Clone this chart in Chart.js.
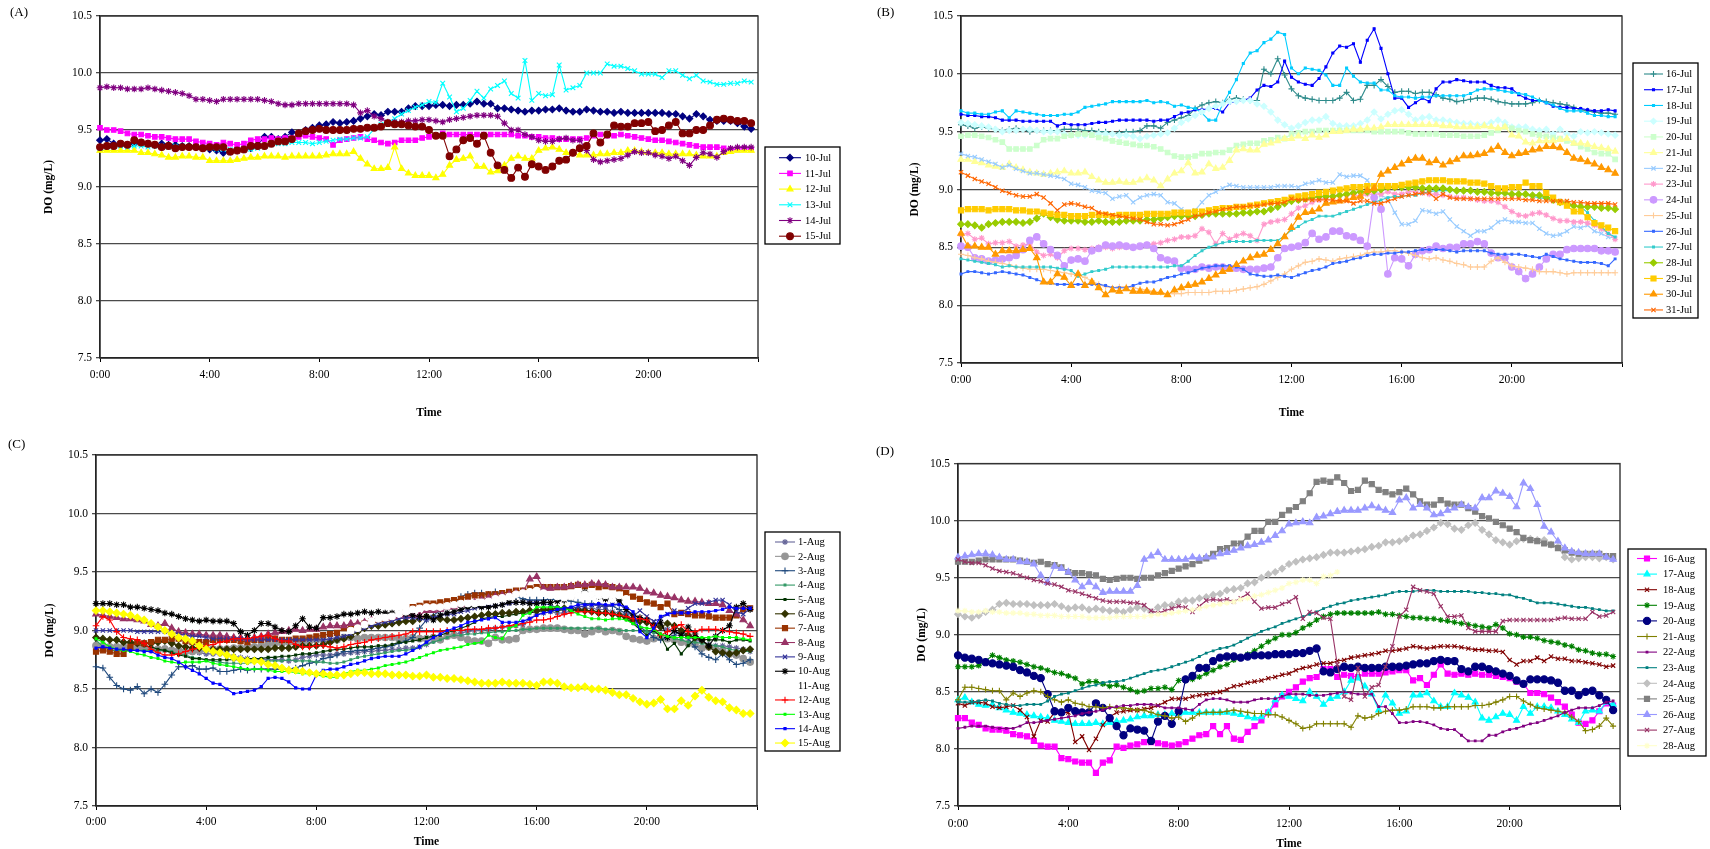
<!DOCTYPE html>
<html><head><meta charset="utf-8">
<script src="https://cdn.jsdelivr.net/npm/chart.js@4.4.1/dist/chart.umd.min.js"></script>
<style>
html,body{margin:0;padding:0;background:#fff;overflow:hidden}
#wrap{position:relative;width:1710px;height:849px;background:#fff}
canvas{position:absolute;left:0;top:0}
</style></head><body>
<div id="wrap">
<canvas id="cA" width="1710" height="849"></canvas>
<canvas id="cB" width="1710" height="849"></canvas>
<canvas id="cC" width="1710" height="849"></canvas>
<canvas id="cD" width="1710" height="849"></canvas>
</div>
<script>
// ---------- x categories (time of day, hours, 15-min readings) ----------
const hours = Array.from({length: 96}, (_, i) => i / 4);
const timeTickLabels = ['0:00', '4:00', '8:00', '12:00', '16:00', '20:00'];
const yTicks = [7.5, 8.0, 8.5, 9.0, 9.5, 10.0, 10.5];

// ---------- Panel A: 10-15 Jul ----------
const namesA = ['10-Jul', '11-Jul', '12-Jul', '13-Jul', '14-Jul', '15-Jul'];
const jul10 = [9.41,9.42,9.38,9.37,9.37,9.38,9.39,9.38,9.37,9.38,9.37,9.37,
9.36,9.36,9.35,9.34,9.33,9.32,9.30,9.31,9.32,9.33,9.34,9.37,
9.44,9.44,9.42,9.44,9.48,9.47,9.50,9.52,9.54,9.55,9.57,9.56,
9.57,9.58,9.60,9.62,9.64,9.63,9.66,9.66,9.66,9.69,9.71,9.71,
9.71,9.72,9.72,9.71,9.72,9.72,9.73,9.75,9.73,9.73,9.69,9.69,
9.68,9.67,9.66,9.67,9.67,9.68,9.68,9.69,9.67,9.66,9.66,9.68,
9.67,9.66,9.66,9.65,9.66,9.65,9.65,9.65,9.65,9.65,9.65,9.64,
9.64,9.62,9.60,9.64,9.62,9.59,9.58,9.58,9.58,9.56,9.53,9.51];
const jul11 = [9.52,9.50,9.50,9.49,9.47,9.46,9.46,9.45,9.44,9.44,9.43,9.42,
9.42,9.42,9.40,9.39,9.38,9.37,9.39,9.38,9.37,9.38,9.41,9.42,
9.42,9.43,9.42,9.43,9.43,9.44,9.45,9.44,9.43,9.42,9.37,9.41,
9.42,9.43,9.44,9.42,9.41,9.39,9.38,9.39,9.41,9.41,9.41,9.43,
9.44,9.45,9.47,9.46,9.46,9.46,9.46,9.46,9.46,9.46,9.46,9.46,
9.46,9.45,9.45,9.44,9.44,9.43,9.43,9.42,9.42,9.42,9.42,9.43,
9.45,9.46,9.45,9.45,9.46,9.45,9.44,9.43,9.42,9.41,9.41,9.40,
9.39,9.38,9.37,9.36,9.35,9.35,9.35,9.34,9.33,9.33,9.34,9.33];
const jul12 = [9.32,9.32,9.32,9.32,9.32,9.32,9.30,9.30,9.29,9.28,9.26,9.26,
9.27,9.27,9.26,9.26,9.23,9.23,9.23,9.23,9.24,9.25,9.26,9.26,
9.27,9.27,9.27,9.26,9.27,9.27,9.27,9.27,9.27,9.28,9.29,9.29,
9.29,9.31,9.25,9.20,9.16,9.16,9.17,9.35,9.16,9.12,9.10,9.10,
9.10,9.08,9.11,9.19,9.24,9.25,9.27,9.18,9.18,9.13,9.14,9.19,
9.25,9.27,9.25,9.25,9.32,9.34,9.35,9.33,9.30,9.30,9.28,9.28,
9.28,9.29,9.29,9.30,9.30,9.32,9.32,9.31,9.30,9.30,9.30,9.29,
9.29,9.29,9.29,9.28,9.27,9.27,9.27,9.30,9.31,9.32,9.32,9.32];
const jul13 = [9.34,9.35,9.35,9.36,9.35,9.36,9.36,9.35,9.36,9.36,9.35,9.36,
9.36,9.35,9.35,9.35,9.34,9.33,9.33,9.33,9.33,9.34,9.33,9.34,
9.35,9.37,9.38,9.38,9.39,9.39,9.39,9.38,9.39,9.40,9.41,9.42,
9.42,9.43,9.43,9.44,9.51,9.55,9.57,9.60,9.64,9.67,9.70,9.72,
9.75,9.74,9.91,9.79,9.66,9.69,9.76,9.84,9.78,9.86,9.89,9.93,
9.82,9.78,10.11,9.76,9.82,9.80,9.81,10.07,9.85,9.87,9.89,10.00,
10.00,10.00,10.08,10.06,10.06,10.04,10.02,9.99,9.99,9.99,9.96,10.02,
10.02,9.98,9.95,9.98,9.93,9.92,9.90,9.90,9.91,9.91,9.93,9.92];
const jul14 = [9.87,9.88,9.87,9.87,9.86,9.86,9.86,9.87,9.86,9.85,9.84,9.83,
9.82,9.80,9.77,9.77,9.76,9.75,9.77,9.77,9.77,9.77,9.77,9.77,
9.76,9.75,9.73,9.72,9.72,9.73,9.73,9.73,9.73,9.73,9.73,9.73,
9.73,9.72,9.65,9.67,9.62,9.60,9.57,9.57,9.57,9.58,9.58,9.59,
9.59,9.58,9.57,9.59,9.60,9.61,9.62,9.63,9.63,9.63,9.62,9.56,
9.50,9.50,9.46,9.44,9.41,9.40,9.40,9.42,9.43,9.41,9.41,9.32,
9.24,9.22,9.23,9.24,9.25,9.28,9.31,9.30,9.30,9.28,9.27,9.25,
9.27,9.23,9.19,9.26,9.30,9.29,9.26,9.31,9.34,9.35,9.35,9.35];
const jul15 = [9.35,9.36,9.36,9.38,9.37,9.41,9.39,9.38,9.37,9.35,9.36,9.34,
9.35,9.35,9.35,9.34,9.35,9.35,9.35,9.31,9.32,9.33,9.36,9.36,
9.36,9.38,9.40,9.40,9.42,9.47,9.49,9.50,9.51,9.50,9.50,9.50,
9.50,9.51,9.51,9.52,9.52,9.53,9.56,9.55,9.55,9.54,9.53,9.53,
9.50,9.45,9.45,9.27,9.33,9.41,9.43,9.38,9.45,9.30,9.19,9.15,
9.08,9.17,9.09,9.20,9.18,9.15,9.18,9.23,9.24,9.30,9.34,9.36,
9.47,9.39,9.46,9.54,9.53,9.53,9.56,9.56,9.57,9.49,9.50,9.54,
9.57,9.47,9.47,9.50,9.50,9.54,9.59,9.60,9.59,9.58,9.58,9.56];
const seriesA = [jul10, jul11, jul12, jul13, jul14, jul15];

// ---------- Panel B: 16-31 Jul ----------
const namesB = ['16-Jul','17-Jul','18-Jul','19-Jul','20-Jul','21-Jul','22-Jul','23-Jul','24-Jul','25-Jul','26-Jul','27-Jul','28-Jul','29-Jul','30-Jul','31-Jul'];
const jul16 = [9.56,9.55,9.53,9.54,9.53,9.52,9.51,9.52,9.53,9.52,9.50,9.51,
9.51,9.51,9.51,9.52,9.52,9.52,9.51,9.51,9.50,9.50,9.48,9.49,
9.50,9.50,9.51,9.55,9.55,9.53,9.58,9.60,9.62,9.64,9.70,9.73,
9.75,9.76,9.75,9.78,9.79,9.78,9.77,9.77,10.04,10.00,10.13,9.99,
9.87,9.81,9.79,9.78,9.77,9.77,9.77,9.79,9.84,9.77,9.78,9.90,
9.90,9.95,9.89,9.84,9.85,9.85,9.83,9.84,9.84,9.82,9.79,9.78,
9.76,9.77,9.78,9.79,9.79,9.78,9.76,9.75,9.74,9.74,9.74,9.75,
9.77,9.76,9.75,9.74,9.73,9.71,9.69,9.68,9.67,9.66,9.66,9.65];
const jul17 = [9.65,9.64,9.64,9.63,9.63,9.62,9.60,9.60,9.60,9.59,9.59,9.59,
9.59,9.59,9.55,9.57,9.56,9.56,9.56,9.57,9.58,9.58,9.59,9.60,
9.60,9.60,9.60,9.60,9.59,9.60,9.60,9.63,9.66,9.67,9.69,9.69,
9.70,9.70,9.67,9.75,9.76,9.77,9.79,9.86,9.90,9.89,9.93,10.11,
9.97,9.93,9.91,9.90,9.96,10.06,10.18,10.24,10.23,10.26,10.10,10.29,
10.39,10.22,10.00,9.79,9.79,9.71,9.75,9.79,9.76,9.87,9.93,9.93,
9.95,9.94,9.93,9.93,9.93,9.90,9.88,9.88,9.87,9.82,9.79,9.77,
9.77,9.75,9.72,9.71,9.71,9.70,9.70,9.69,9.68,9.68,9.69,9.68];
const jul18 = [9.68,9.66,9.66,9.65,9.65,9.67,9.68,9.62,9.68,9.67,9.66,9.65,
9.64,9.64,9.64,9.65,9.65,9.67,9.71,9.72,9.73,9.74,9.76,9.76,
9.76,9.76,9.76,9.77,9.75,9.76,9.75,9.72,9.73,9.71,9.70,9.66,
9.60,9.60,9.74,9.84,9.95,10.09,10.18,10.20,10.27,10.30,10.36,10.34,
10.05,10.00,10.05,10.04,10.03,9.99,9.90,9.90,10.05,9.98,9.93,9.92,
9.92,9.86,9.86,9.81,9.80,9.80,9.79,9.80,9.80,9.81,9.81,9.81,
9.81,9.81,9.83,9.86,9.87,9.87,9.86,9.85,9.84,9.83,9.82,9.80,
9.77,9.75,9.73,9.70,9.68,9.68,9.68,9.66,9.64,9.64,9.63,9.63];
const jul19 = [9.58,9.57,9.56,9.55,9.54,9.52,9.50,9.51,9.51,9.52,9.52,9.51,
9.50,9.50,9.50,9.48,9.47,9.47,9.47,9.48,9.48,9.48,9.48,9.47,
9.47,9.46,9.44,9.46,9.47,9.48,9.49,9.53,9.58,9.61,9.64,9.67,
9.70,9.72,9.74,9.76,9.76,9.77,9.77,9.74,9.72,9.67,9.60,9.56,
9.53,9.55,9.58,9.60,9.60,9.63,9.57,9.55,9.55,9.55,9.57,9.60,
9.67,9.61,9.65,9.68,9.69,9.65,9.60,9.62,9.63,9.60,9.60,9.59,
9.58,9.57,9.57,9.56,9.56,9.58,9.60,9.58,9.54,9.54,9.54,9.52,
9.51,9.52,9.48,9.52,9.48,9.46,9.50,9.49,9.50,9.49,9.48,9.47];
const jul20 = [9.46,9.47,9.47,9.46,9.45,9.43,9.41,9.35,9.35,9.35,9.35,9.38,
9.43,9.44,9.44,9.46,9.47,9.48,9.48,9.47,9.45,9.44,9.42,9.41,
9.40,9.39,9.38,9.38,9.37,9.35,9.32,9.29,9.28,9.28,9.29,9.31,
9.31,9.32,9.32,9.34,9.38,9.39,9.40,9.40,9.42,9.43,9.45,9.44,
9.48,9.49,9.50,9.50,9.51,9.51,9.51,9.51,9.51,9.51,9.51,9.51,
9.50,9.50,9.50,9.50,9.50,9.49,9.48,9.48,9.48,9.48,9.47,9.47,
9.47,9.46,9.46,9.46,9.47,9.49,9.51,9.54,9.53,9.51,9.50,9.48,
9.47,9.46,9.45,9.44,9.42,9.40,9.37,9.35,9.32,9.31,9.31,9.26];
const jul21 = [9.26,9.26,9.24,9.23,9.21,9.20,9.19,9.22,9.19,9.17,9.15,9.14,
9.13,9.14,9.15,9.16,9.14,9.14,9.15,9.11,9.08,9.06,9.06,9.07,
9.06,9.06,9.08,9.10,9.08,9.03,9.09,9.14,9.16,9.23,9.14,9.15,
9.22,9.18,9.19,9.25,9.34,9.35,9.34,9.34,9.39,9.40,9.42,9.44,
9.44,9.46,9.44,9.47,9.45,9.47,9.50,9.50,9.51,9.52,9.52,9.53,
9.53,9.54,9.56,9.56,9.56,9.56,9.56,9.56,9.56,9.56,9.55,9.55,
9.54,9.54,9.54,9.54,9.55,9.54,9.53,9.54,9.47,9.46,9.41,9.40,
9.42,9.42,9.42,9.43,9.44,9.40,9.40,9.39,9.37,9.36,9.35,9.33];
const jul22 = [9.31,9.29,9.28,9.26,9.24,9.22,9.19,9.21,9.18,9.16,9.14,9.14,
9.13,9.12,9.11,9.09,9.05,9.04,9.02,8.99,8.98,8.97,8.92,8.94,
8.95,8.89,8.93,8.95,8.96,8.95,8.89,8.88,8.83,8.80,8.82,8.89,
8.95,8.98,9.01,9.04,9.03,9.02,9.02,9.02,9.02,9.02,9.03,9.03,
9.03,9.02,9.05,9.06,9.08,9.06,9.06,9.13,9.11,9.12,9.12,9.08,
8.99,8.95,8.92,8.80,8.70,8.70,8.73,8.82,8.81,8.79,8.81,8.74,
8.68,8.64,8.60,8.64,8.64,8.67,8.72,8.74,8.72,8.72,8.71,8.71,
8.66,8.62,8.60,8.61,8.64,8.68,8.67,8.69,8.64,8.62,8.59,8.58];
const jul23 = [8.61,8.62,8.57,8.58,8.53,8.54,8.54,8.55,8.51,8.52,8.53,8.46,
8.43,8.44,8.41,8.47,8.49,8.49,8.48,8.49,8.50,8.50,8.49,8.50,
8.50,8.50,8.50,8.52,8.53,8.54,8.56,8.57,8.59,8.59,8.60,8.66,
8.63,8.53,8.62,8.57,8.60,8.62,8.60,8.56,8.70,8.72,8.73,8.74,
8.79,8.84,8.86,8.89,8.91,8.93,8.95,8.95,8.95,8.96,8.94,8.96,
8.96,8.96,8.98,8.96,8.96,8.98,8.98,8.97,8.96,8.96,8.95,8.94,
8.93,8.93,8.92,8.91,8.90,8.90,8.89,8.85,8.81,8.78,8.77,8.79,
8.80,8.78,8.75,8.73,8.73,8.72,8.72,8.71,8.69,8.66,8.62,8.57];
const jul24 = [8.51,8.50,8.41,8.40,8.38,8.39,8.40,8.41,8.43,8.48,8.56,8.59,
8.53,8.48,8.43,8.34,8.39,8.40,8.38,8.47,8.49,8.52,8.51,8.52,
8.51,8.50,8.51,8.52,8.49,8.41,8.39,8.38,8.32,8.31,8.31,8.33,
8.32,8.33,8.33,8.32,8.32,8.31,8.31,8.31,8.32,8.33,8.41,8.49,
8.50,8.51,8.54,8.62,8.57,8.59,8.64,8.64,8.60,8.59,8.56,8.51,
8.93,8.83,8.27,8.41,8.40,8.34,8.44,8.47,8.48,8.51,8.49,8.50,
8.50,8.53,8.53,8.55,8.53,8.45,8.41,8.41,8.33,8.29,8.23,8.27,
8.33,8.40,8.44,8.44,8.48,8.49,8.49,8.49,8.49,8.47,8.47,8.46];
const jul25 = [8.44,8.43,8.41,8.40,8.38,8.37,8.36,8.35,8.33,8.32,8.31,8.31,
8.31,8.30,8.29,8.28,8.27,8.26,8.24,8.21,8.18,8.16,8.15,8.16,
8.16,8.15,8.14,8.13,8.12,8.11,8.10,8.10,8.10,8.11,8.11,8.11,
8.11,8.12,8.12,8.12,8.13,8.14,8.15,8.16,8.18,8.21,8.24,8.27,
8.31,8.34,8.37,8.38,8.40,8.39,8.38,8.40,8.41,8.42,8.43,8.45,
8.46,8.46,8.47,8.47,8.46,8.45,8.43,8.41,8.40,8.41,8.39,8.38,
8.36,8.35,8.33,8.33,8.33,8.38,8.41,8.37,8.34,8.33,8.32,8.31,
8.29,8.29,8.29,8.28,8.27,8.28,8.28,8.28,8.28,8.28,8.28,8.28];
const jul26 = [8.27,8.29,8.29,8.28,8.27,8.28,8.29,8.28,8.27,8.26,8.24,8.22,
8.20,8.19,8.18,8.18,8.18,8.18,8.18,8.18,8.18,8.17,8.15,8.15,
8.15,8.17,8.19,8.20,8.20,8.22,8.24,8.25,8.27,8.28,8.30,8.32,
8.33,8.34,8.34,8.34,8.33,8.31,8.27,8.26,8.25,8.25,8.26,8.25,
8.24,8.26,8.28,8.30,8.31,8.33,8.36,8.37,8.38,8.40,8.41,8.43,
8.44,8.44,8.45,8.45,8.46,8.46,8.47,8.48,8.48,8.48,8.48,8.47,
8.46,8.47,8.47,8.47,8.47,8.45,8.44,8.44,8.44,8.44,8.43,8.42,
8.41,8.44,8.42,8.40,8.39,8.38,8.37,8.37,8.37,8.36,8.34,8.40];
const jul27 = [8.40,8.39,8.38,8.37,8.36,8.35,8.33,8.34,8.33,8.33,8.33,8.33,
8.33,8.33,8.32,8.31,8.30,8.25,8.27,8.29,8.30,8.31,8.33,8.33,
8.33,8.33,8.33,8.33,8.33,8.33,8.33,8.34,8.34,8.38,8.43,8.47,
8.50,8.52,8.54,8.55,8.55,8.55,8.55,8.56,8.56,8.56,8.56,8.60,
8.65,8.68,8.72,8.74,8.77,8.77,8.77,8.79,8.81,8.83,8.85,8.87,
8.89,8.91,8.93,8.94,8.94,8.95,8.95,8.97,8.98,8.99,8.99,8.99,
8.99,8.99,8.98,8.98,8.98,8.97,8.97,8.96,8.96,8.96,8.95,8.94,
8.93,8.92,8.91,8.90,8.88,8.86,8.85,8.80,8.73,8.68,8.62,8.59];
const jul28 = [8.70,8.70,8.69,8.67,8.70,8.71,8.72,8.72,8.72,8.71,8.72,8.75,
8.79,8.76,8.74,8.73,8.73,8.73,8.72,8.72,8.73,8.72,8.72,8.72,
8.73,8.73,8.73,8.74,8.74,8.75,8.76,8.77,8.77,8.77,8.77,8.78,
8.79,8.79,8.79,8.79,8.79,8.80,8.80,8.81,8.81,8.83,8.85,8.88,
8.90,8.91,8.92,8.93,8.94,8.94,8.94,8.95,8.96,8.97,8.98,8.98,
8.99,9.00,9.02,9.02,9.02,9.02,9.02,9.01,9.01,9.01,9.01,9.00,
8.99,8.99,8.99,8.98,8.98,8.97,8.97,8.97,8.96,8.96,8.96,8.95,
8.95,8.93,8.91,8.89,8.88,8.86,8.85,8.85,8.85,8.84,8.84,8.83];
const jul29 = [8.82,8.83,8.83,8.83,8.82,8.83,8.83,8.83,8.82,8.82,8.81,8.81,
8.80,8.79,8.78,8.78,8.77,8.77,8.77,8.78,8.78,8.78,8.77,8.78,
8.78,8.78,8.78,8.79,8.79,8.79,8.79,8.80,8.80,8.80,8.81,8.81,
8.82,8.83,8.84,8.84,8.85,8.85,8.86,8.87,8.88,8.89,8.90,8.91,
8.93,8.94,8.95,8.96,8.97,8.98,8.99,9.00,9.01,9.02,9.02,9.03,
9.03,9.03,9.03,9.03,9.04,9.05,9.06,9.07,9.08,9.08,9.08,9.07,
9.07,9.07,9.06,9.06,9.05,9.03,9.01,9.01,9.02,9.02,9.06,9.03,
9.03,8.97,8.93,8.89,8.86,8.81,8.81,8.76,8.71,8.69,8.67,8.64];
const jul30 = [8.62,8.51,8.51,8.50,8.50,8.44,8.47,8.47,8.47,8.48,8.49,8.41,
8.20,8.20,8.27,8.24,8.17,8.27,8.17,8.20,8.15,8.09,8.13,8.12,
8.14,8.12,8.12,8.12,8.11,8.11,8.09,8.13,8.15,8.17,8.18,8.20,
8.23,8.26,8.29,8.31,8.35,8.38,8.41,8.43,8.44,8.48,8.53,8.59,
8.67,8.76,8.80,8.81,8.83,8.88,8.89,8.90,8.91,8.93,8.94,8.99,
9.01,9.13,9.16,9.19,9.22,9.25,9.27,9.27,9.23,9.25,9.21,9.24,
9.26,9.29,9.29,9.30,9.31,9.34,9.37,9.32,9.29,9.31,9.32,9.34,
9.35,9.37,9.37,9.36,9.32,9.27,9.26,9.24,9.22,9.19,9.17,9.14];
const jul31 = [9.15,9.12,9.09,9.07,9.05,9.02,8.99,8.97,8.95,8.94,8.94,8.96,
8.93,8.88,8.82,8.87,8.88,8.87,8.85,8.84,8.80,8.79,8.78,8.77,
8.76,8.75,8.74,8.72,8.70,8.70,8.69,8.70,8.72,8.74,8.77,8.78,
8.80,8.81,8.83,8.84,8.85,8.85,8.86,8.86,8.87,8.88,8.88,8.89,
8.92,8.91,8.91,8.91,8.91,8.91,8.91,8.90,8.90,8.88,8.90,8.90,
8.88,8.88,8.90,8.92,8.94,8.95,8.96,8.97,8.97,8.92,8.96,8.93,
8.92,8.92,8.92,8.92,8.92,8.92,8.92,8.92,8.92,8.92,8.91,8.91,
8.90,8.90,8.90,8.90,8.90,8.89,8.89,8.88,8.88,8.88,8.88,8.87];
const seriesB = [jul16, jul17, jul18, jul19, jul20, jul21, jul22, jul23, jul24, jul25, jul26, jul27, jul28, jul29, jul30, jul31];

// ---------- Panel C: 1-15 Aug ----------
const namesC = ['1-Aug','2-Aug','3-Aug','4-Aug','5-Aug','6-Aug','7-Aug','8-Aug','9-Aug','10-Aug','11-Aug','12-Aug','13-Aug','14-Aug','15-Aug'];
const aug1 = [8.85,8.85,8.86,8.85,8.84,8.85,8.85,8.84,8.83,8.84,8.85,8.84,
8.84,8.83,8.82,8.81,8.80,8.80,8.80,8.79,8.78,8.77,8.76,8.75,
8.75,8.75,8.75,8.75,8.74,8.75,8.77,8.78,8.79,8.79,8.79,8.80,
8.80,8.81,8.81,8.82,8.82,8.83,8.83,8.84,8.84,8.85,8.85,8.86,
8.88,8.91,8.93,8.95,8.97,8.98,8.99,9.00,9.00,9.01,9.02,9.03,
9.03,9.04,9.05,9.10,9.14,9.15,9.16,9.15,9.15,9.17,9.18,9.19,
9.19,9.18,9.18,9.16,9.15,9.13,9.10,9.08,9.07,9.05,9.03,9.01,
8.99,8.97,8.95,8.92,8.90,8.88,8.87,8.87,8.86,8.85,8.84,8.82];
const aug2 = [8.87,8.87,8.86,8.86,8.86,8.85,8.85,8.85,8.84,8.84,8.84,8.83,
8.83,8.82,8.82,8.83,8.84,8.84,8.84,8.84,8.85,8.85,8.86,8.86,
8.87,8.88,8.89,8.89,8.90,8.90,8.90,8.91,8.92,8.91,8.91,8.92,
8.94,8.94,8.93,8.94,8.94,8.94,8.94,8.94,8.93,8.93,8.94,8.93,
8.93,8.94,8.92,8.95,8.96,8.94,8.92,8.91,8.91,8.89,8.94,8.92,
8.92,8.93,9.00,9.01,9.01,9.02,9.02,9.02,9.01,9.00,9.00,8.97,
8.99,9.01,8.99,9.00,8.99,8.95,8.93,8.92,8.91,8.93,8.94,8.93,
8.92,8.90,8.89,8.88,8.85,8.86,8.84,8.83,8.80,8.79,8.76,8.73];
const aug3 = [8.69,8.68,8.60,8.53,8.50,8.49,8.52,8.46,8.50,8.47,8.54,8.62,
8.69,8.69,8.70,8.67,8.67,8.68,8.65,8.65,8.66,8.67,8.66,8.67,
8.67,8.67,8.67,8.67,8.67,8.68,8.70,8.72,8.73,8.76,8.77,8.79,
8.82,8.82,8.83,8.83,8.84,8.85,8.86,8.87,8.89,8.91,8.94,9.02,
9.09,9.13,9.17,9.20,9.23,9.29,9.31,9.32,9.32,9.31,9.33,9.31,
9.30,9.29,9.27,9.26,9.26,9.26,9.27,9.26,9.26,9.25,9.24,9.23,
9.23,9.22,9.21,9.21,9.18,9.14,9.07,9.03,8.99,8.94,8.92,8.94,
8.96,9.00,8.93,8.86,8.80,8.77,8.75,8.80,8.75,8.71,8.72,8.75];
const aug4 = [8.92,8.86,8.83,8.83,8.83,8.83,8.83,8.83,8.83,8.83,8.83,8.82,
8.80,8.79,8.77,8.76,8.75,8.74,8.73,8.72,8.72,8.72,8.72,8.73,
8.73,8.74,8.74,8.74,8.75,8.74,8.74,8.74,8.73,8.73,8.72,8.72,
8.73,8.75,8.77,8.78,8.79,8.80,8.81,8.82,8.83,8.83,8.84,8.86,
8.88,8.90,8.92,8.94,8.96,8.96,8.97,8.97,8.98,8.98,8.99,8.99,
9.00,9.00,9.01,9.01,9.02,9.02,9.02,9.02,9.02,9.02,9.02,9.02,
9.02,9.02,9.01,9.01,9.00,9.00,9.00,9.00,8.99,8.98,8.97,8.95,
8.93,8.92,8.90,8.90,8.89,8.88,8.87,8.86,8.84,8.83,8.82,8.82];
const aug5 = [8.94,8.93,8.92,8.91,8.90,8.89,8.88,8.87,8.86,8.84,8.83,8.81,
8.79,8.78,8.76,8.76,8.75,8.75,8.75,8.75,8.75,8.75,8.76,8.76,
8.76,8.77,8.77,8.78,8.78,8.79,8.80,8.80,8.81,8.82,8.83,8.84,
8.84,8.85,8.86,8.86,8.86,8.87,8.87,8.88,8.90,8.90,8.91,8.92,
8.94,8.95,8.96,8.98,9.00,9.02,9.04,9.07,9.10,9.11,9.12,9.12,
9.13,9.14,9.15,9.15,9.16,9.17,9.17,9.17,9.18,9.18,9.17,9.17,
9.17,9.16,9.15,9.14,9.13,9.10,9.06,9.01,8.96,9.00,8.95,8.84,
8.89,8.80,8.87,8.93,8.93,8.92,8.92,8.92,8.90,8.92,8.92,8.91];
const aug6 = [8.94,8.93,8.92,8.92,8.90,8.90,8.89,8.89,8.89,8.90,8.91,8.89,
8.87,8.86,8.85,8.85,8.84,8.84,8.84,8.84,8.84,8.84,8.84,8.84,
8.84,8.84,8.85,8.85,8.85,8.86,8.87,8.87,8.87,8.88,8.90,8.92,
8.93,8.95,8.99,9.02,9.04,9.04,9.05,9.06,9.07,9.08,9.08,9.10,
9.12,9.11,9.10,9.09,9.09,9.10,9.11,9.12,9.13,9.14,9.14,9.15,
9.15,9.16,9.16,9.17,9.17,9.18,9.18,9.19,9.19,9.18,9.18,9.17,
9.16,9.15,9.15,9.14,9.13,9.11,9.09,9.08,9.07,9.05,9.03,9.06,
9.04,9.00,8.96,8.94,8.92,8.86,8.82,8.81,8.80,8.81,8.83,8.84];
const aug7 = [8.82,8.83,8.82,8.80,8.80,8.86,8.90,8.89,8.90,8.92,8.92,8.93,
8.93,8.91,8.90,8.90,8.90,8.92,8.92,8.92,8.92,8.91,8.90,8.92,
8.92,8.93,8.93,8.92,8.92,8.93,8.93,8.94,8.95,8.96,8.97,8.98,
9.02,9.03,9.04,9.06,9.08,9.09,9.10,9.11,9.13,9.15,9.20,9.21,
9.23,9.23,9.24,9.25,9.26,9.27,9.29,9.30,9.30,9.31,9.31,9.32,
9.33,9.34,9.34,9.36,9.37,9.37,9.37,9.37,9.37,9.38,9.39,9.38,
9.39,9.37,9.38,9.37,9.36,9.32,9.29,9.27,9.24,9.23,9.20,9.23,
9.14,9.15,9.14,9.13,9.13,9.12,9.11,9.11,9.11,9.13,9.18,9.19];
const aug8 = [9.14,9.13,9.12,9.11,9.10,9.10,9.09,9.08,9.05,9.04,9.06,9.02,
8.99,8.98,8.97,8.97,8.96,8.96,8.96,8.95,8.94,8.94,8.93,8.94,
8.95,8.97,8.98,8.99,9.00,9.01,9.00,9.01,9.01,9.03,9.04,9.04,
9.04,9.06,9.06,9.07,9.09,9.10,9.11,9.11,9.12,9.12,9.13,9.13,
9.17,9.17,9.18,9.20,9.20,9.22,9.23,9.24,9.26,9.28,9.29,9.30,
9.31,9.32,9.33,9.44,9.46,9.36,9.36,9.37,9.37,9.38,9.39,9.39,
9.40,9.40,9.39,9.37,9.37,9.37,9.37,9.36,9.33,9.32,9.30,9.29,
9.28,9.26,9.25,9.25,9.24,9.23,9.23,9.22,9.17,9.14,9.09,9.04];
const aug9 = [9.00,9.00,9.00,9.00,9.00,9.00,8.99,8.99,8.99,8.99,8.99,8.98,
8.97,8.96,8.95,8.95,8.94,8.93,8.93,8.93,8.93,8.93,8.92,8.92,
8.92,8.92,8.92,8.92,8.92,8.92,8.92,8.92,8.92,8.92,8.93,8.94,
8.95,8.97,9.00,9.02,9.04,9.06,9.07,9.08,9.10,9.11,9.11,9.10,
9.09,9.11,9.13,9.14,9.14,9.16,9.17,9.19,9.20,9.21,9.21,9.22,
9.23,9.24,9.24,9.24,9.24,9.23,9.22,9.19,9.17,9.19,9.20,9.21,
9.22,9.21,9.20,9.22,9.23,9.17,9.12,9.17,9.12,9.08,9.10,9.14,
9.17,9.15,9.19,9.23,9.23,9.24,9.26,9.26,9.22,9.16,9.14,9.19];
const aug10 = [9.23,9.23,9.23,9.22,9.22,9.20,9.20,9.19,9.18,9.17,9.15,9.14,
9.12,9.10,9.09,9.08,9.09,9.08,9.08,9.08,9.06,8.99,8.96,9.00,
9.06,9.06,9.03,9.00,8.99,9.04,9.10,9.03,9.02,9.11,9.11,9.12,
9.14,9.14,9.15,9.16,9.15,9.16,9.15,9.15,9.14,9.14,9.13,9.12,
9.12,9.09,9.13,9.15,9.16,9.18,9.20,9.21,9.20,9.20,9.21,9.22,
9.24,9.24,9.24,9.23,9.23,9.24,9.24,9.25,9.26,9.28,9.30,9.33,
9.31,9.29,9.27,9.30,9.26,9.18,9.13,9.11,9.09,9.04,9.07,8.94,
9.00,8.96,9.03,8.97,8.92,8.87,8.95,9.00,9.04,9.20,9.23,9.18];
const aug11 = [null,null,null,null,null,null,null,null,null,null,null,null,
null,null,null,null,null,null,null,null,null,null,null,null,
null,null,null,null,null,null,null,null,null,null,null,null,
null,9.00,9.02,9.05,9.08,9.10,9.11,9.12,9.14,9.16,9.18,9.19,
9.20,9.20,9.20,9.21,9.22,9.23,9.23,9.23,9.24,9.25,9.27,9.28,
9.29,9.31,9.32,9.33,9.34,9.32,9.30,9.29,9.28,9.29,9.30,9.31,
9.31,9.30,9.30,9.30,9.30,9.27,null,null,null,null,null,null,
null,null,null,null,null,null,null,null,null,null,null,null];
const aug12 = [9.04,9.12,9.09,8.99,8.94,8.93,8.92,8.89,8.84,8.81,8.79,8.79,
8.80,8.82,8.84,8.85,8.87,8.88,8.90,8.91,8.93,8.93,8.93,8.94,
8.95,8.96,8.93,8.91,8.91,8.88,8.86,8.86,8.87,8.87,8.86,8.85,
8.86,8.88,8.89,8.90,8.92,8.93,8.94,8.95,8.96,8.97,8.99,8.99,
8.99,8.99,8.99,9.00,9.00,9.00,9.01,9.01,9.01,9.02,9.02,9.03,
9.04,9.05,9.06,9.07,9.09,9.09,9.10,9.12,9.14,9.15,9.16,9.16,
9.16,9.15,9.15,9.14,9.13,9.12,9.10,9.10,9.09,9.03,8.96,8.99,
9.03,9.05,8.99,8.99,9.01,9.01,9.01,9.00,8.99,8.98,8.97,8.95];
const aug13 = [8.93,8.90,8.86,8.84,8.83,8.82,8.80,8.79,8.77,8.76,8.74,8.73,
8.72,8.73,8.73,8.73,8.74,8.72,8.71,8.70,8.69,8.68,8.67,8.67,
8.67,8.66,8.65,8.65,8.65,8.64,8.63,8.63,8.62,8.61,8.60,8.60,
8.63,8.65,8.66,8.66,8.67,8.68,8.70,8.71,8.72,8.73,8.75,8.77,
8.79,8.81,8.83,8.84,8.85,8.86,8.88,8.89,8.90,8.96,8.94,8.93,
9.02,9.04,9.13,9.15,9.20,9.20,9.20,9.20,9.19,9.17,9.14,9.12,
9.10,9.10,9.09,9.10,9.10,9.09,9.06,9.03,9.02,9.01,8.97,8.95,
8.94,8.94,8.94,8.94,8.94,8.94,8.95,8.94,8.94,8.94,8.93,8.92];
const aug14 = [8.85,8.86,8.85,8.84,8.84,8.83,8.83,8.82,8.82,8.79,8.77,8.76,
8.73,8.69,8.66,8.63,8.59,8.55,8.54,8.50,8.46,8.47,8.48,8.49,
8.52,8.59,8.60,8.59,8.56,8.51,8.50,8.50,8.62,8.66,8.67,8.67,
8.69,8.71,8.72,8.74,8.76,8.77,8.78,8.78,8.78,8.80,8.83,8.86,
8.90,8.94,8.97,9.00,9.02,9.04,9.07,9.08,9.09,9.10,9.11,9.07,
9.07,9.07,9.08,9.10,9.13,9.15,9.16,9.18,9.19,9.20,9.22,9.22,
9.22,9.23,9.22,9.22,9.22,9.20,9.16,8.99,8.94,9.02,9.12,9.14,
9.15,9.15,9.15,9.16,9.16,9.16,9.17,9.18,9.20,9.19,9.19,9.19];
const aug15 = [9.17,9.17,9.16,9.15,9.14,9.13,9.11,9.09,9.06,9.03,9.00,8.97,
8.94,8.93,8.91,8.87,8.84,8.82,8.81,8.79,8.77,8.75,8.74,8.74,
8.73,8.71,8.70,8.68,8.66,8.66,8.65,8.64,8.63,8.63,8.62,8.62,
8.62,8.63,8.64,8.64,8.63,8.63,8.63,8.62,8.62,8.62,8.61,8.61,
8.62,8.60,8.60,8.59,8.59,8.58,8.57,8.56,8.55,8.55,8.55,8.56,
8.55,8.55,8.55,8.54,8.53,8.56,8.56,8.55,8.52,8.51,8.51,8.52,
8.50,8.50,8.49,8.47,8.45,8.45,8.42,8.39,8.37,8.38,8.41,8.33,
8.33,8.40,8.36,8.44,8.49,8.43,8.40,8.39,8.34,8.32,8.29,8.29];
const seriesC = [aug1, aug2, aug3, aug4, aug5, aug6, aug7, aug8, aug9, aug10, aug11, aug12, aug13, aug14, aug15];

// ---------- Panel D: 16-28 Aug ----------
const namesD = ['16-Aug','17-Aug','18-Aug','19-Aug','20-Aug','21-Aug','22-Aug','23-Aug','24-Aug','25-Aug','26-Aug','27-Aug','28-Aug'];
const aug16 = [8.27,8.27,8.23,8.21,8.18,8.17,8.17,8.16,8.13,8.12,8.11,8.07,
8.03,8.02,8.02,7.92,7.91,7.89,7.88,7.88,7.79,7.88,7.90,8.02,
8.01,8.03,8.04,8.06,8.06,8.05,8.04,8.03,8.04,8.06,8.09,8.12,
8.13,8.20,8.13,8.20,8.09,8.08,8.15,8.20,8.25,8.32,8.39,8.46,
8.50,8.54,8.59,8.62,8.63,8.70,8.70,8.63,8.65,8.64,8.63,8.66,
8.66,8.66,8.67,8.68,8.69,8.69,8.60,8.62,8.56,8.65,8.74,8.66,
8.65,8.66,8.65,8.66,8.65,8.65,8.64,8.63,8.62,8.59,8.57,8.49,
8.49,8.48,8.45,8.41,8.37,8.30,8.23,8.22,8.25,8.33,8.40,8.38];
const aug17 = [8.43,8.45,8.41,8.39,8.38,8.39,8.36,8.34,8.32,8.31,8.30,8.29,
8.28,8.27,8.25,8.24,8.23,8.22,8.22,8.22,8.23,8.22,8.23,8.24,
8.25,8.26,8.28,8.29,8.29,8.30,8.30,8.31,8.31,8.32,8.32,8.32,
8.32,8.32,8.32,8.32,8.31,8.30,8.28,8.27,8.28,8.32,8.43,8.47,
8.46,8.44,8.42,8.50,8.46,8.39,8.44,8.46,8.50,8.60,8.62,8.55,
8.48,8.34,8.47,8.40,8.31,8.33,8.47,8.47,8.49,8.42,8.37,8.37,
8.49,8.47,8.45,8.41,8.27,8.25,8.28,8.31,8.30,8.25,8.37,8.31,
8.37,8.37,8.36,8.33,8.30,8.26,8.23,8.33,8.34,8.33,8.41,8.39];
const aug18 = [8.40,8.38,8.41,8.41,8.40,8.37,8.36,8.37,8.38,8.34,8.28,8.11,
8.25,8.24,8.32,8.32,8.32,8.06,8.11,7.99,8.09,8.21,8.28,8.32,
8.33,8.34,8.34,8.35,8.36,8.38,8.41,8.44,8.44,8.44,8.46,8.47,
8.48,8.49,8.50,8.52,8.55,8.56,8.58,8.59,8.60,8.62,8.63,8.65,
8.66,8.69,8.71,8.72,8.74,8.75,8.75,8.77,8.78,8.80,8.81,8.82,
8.83,8.84,8.86,8.86,8.87,8.88,8.90,8.89,8.88,8.89,8.90,8.90,
8.90,8.89,8.88,8.87,8.87,8.86,8.86,8.85,8.78,8.74,8.77,8.77,
8.80,8.77,8.81,8.79,8.79,8.77,8.77,8.76,8.75,8.74,8.72,8.73];
const aug19 = [8.72,8.72,8.72,8.73,8.77,8.82,8.80,8.78,8.77,8.76,8.74,8.72,
8.71,8.69,8.67,8.66,8.64,8.62,8.57,8.59,8.59,8.57,8.55,8.56,
8.54,8.52,8.50,8.51,8.53,8.53,8.54,8.52,8.60,8.60,8.61,8.63,
8.66,8.69,8.72,8.74,8.78,8.80,8.83,8.86,8.90,8.94,8.97,9.00,
9.00,9.02,9.06,9.09,9.13,9.16,9.18,9.19,9.19,9.19,9.19,9.19,
9.19,9.20,9.18,9.18,9.17,9.16,9.15,9.15,9.14,9.14,9.13,9.12,
9.11,9.10,9.09,9.08,9.07,9.06,9.09,9.06,9.01,9.00,8.98,8.98,
8.97,8.95,8.94,8.93,8.91,8.90,8.87,8.86,8.84,8.83,8.83,8.81];
const aug20 = [8.82,8.80,8.79,8.78,8.76,8.75,8.74,8.73,8.72,8.69,8.67,8.64,
8.62,8.48,8.33,8.32,8.36,8.33,8.32,8.32,8.40,8.36,8.27,8.20,
8.12,8.18,8.17,8.16,8.07,8.24,8.29,8.22,8.33,8.61,8.64,8.71,
8.71,8.77,8.80,8.81,8.81,8.80,8.81,8.82,8.82,8.82,8.83,8.83,
8.83,8.84,8.84,8.86,8.88,8.68,8.67,8.70,8.72,8.71,8.72,8.71,
8.71,8.71,8.72,8.72,8.72,8.73,8.74,8.75,8.75,8.77,8.78,8.77,
8.77,8.70,8.68,8.72,8.72,8.70,8.68,8.66,8.64,8.60,8.57,8.61,
8.61,8.61,8.60,8.58,8.51,8.51,8.47,8.50,8.51,8.47,8.43,8.34];
const aug21 = [8.43,8.54,8.54,8.53,8.52,8.51,8.51,8.43,8.49,8.46,8.49,8.51,
8.50,8.46,8.43,8.41,8.43,8.40,8.39,8.37,8.37,8.36,8.37,8.36,
8.36,8.35,8.34,8.34,8.32,8.30,8.29,8.27,8.28,8.24,8.27,8.31,
8.32,8.32,8.32,8.33,8.34,8.33,8.32,8.31,8.31,8.30,8.30,8.28,
8.25,8.22,8.18,8.19,8.22,8.22,8.22,8.22,8.22,8.19,8.29,8.27,
8.28,8.31,8.33,8.34,8.34,8.35,8.37,8.37,8.37,8.36,8.36,8.37,
8.37,8.37,8.37,8.38,8.38,8.39,8.41,8.43,8.46,8.46,8.42,8.39,
8.36,8.35,8.34,8.33,8.32,8.28,8.24,8.16,8.17,8.20,8.27,8.20];
const aug22 = [8.18,8.19,8.20,8.20,8.20,8.19,8.18,8.18,8.18,8.20,8.23,8.23,
8.24,8.25,8.26,8.27,8.28,8.29,8.31,8.32,8.33,8.34,8.36,8.37,
8.38,8.38,8.39,8.39,8.39,8.38,8.36,8.36,8.36,8.35,8.34,8.39,
8.43,8.44,8.44,8.43,8.41,8.41,8.41,8.43,8.44,8.44,8.44,8.46,
8.48,8.48,8.48,8.47,8.47,8.47,8.48,8.49,8.50,8.49,8.48,8.48,
8.48,8.37,8.37,8.31,8.23,8.23,8.24,8.24,8.23,8.21,8.18,8.17,
8.17,8.12,8.07,8.07,8.07,8.12,8.12,8.15,8.17,8.18,8.20,8.22,
8.23,8.25,8.27,8.29,8.32,8.34,8.36,8.36,8.36,8.38,8.41,8.42];
const aug23 = [8.41,8.41,8.41,8.42,8.43,8.42,8.40,8.39,8.38,8.38,8.39,8.39,
8.39,8.42,8.46,8.48,8.49,8.51,8.53,8.55,8.56,8.58,8.59,8.59,
8.60,8.62,8.64,8.66,8.68,8.69,8.70,8.72,8.74,8.76,8.78,8.81,
8.84,8.86,8.88,8.89,8.91,8.94,8.97,9.00,9.03,9.05,9.07,9.10,
9.12,9.14,9.16,9.18,9.20,9.23,9.25,9.27,9.28,9.30,9.31,9.32,
9.33,9.34,9.35,9.37,9.38,9.38,9.38,9.39,9.39,9.39,9.38,9.38,
9.38,9.38,9.38,9.37,9.37,9.36,9.36,9.35,9.35,9.33,9.32,9.30,
9.28,9.28,9.28,9.27,9.26,9.25,9.24,9.24,9.23,9.22,9.21,9.21];
const aug24 = [9.18,9.16,9.15,9.17,9.20,9.22,9.27,9.28,9.27,9.27,9.27,9.26,
9.26,9.26,9.27,9.25,9.23,9.24,9.24,9.22,9.23,9.22,9.21,9.21,
9.20,9.22,9.24,9.23,9.20,9.24,9.26,9.26,9.29,9.30,9.30,9.32,
9.33,9.35,9.36,9.39,9.40,9.41,9.45,9.46,9.50,9.53,9.55,9.58,
9.62,9.64,9.66,9.67,9.68,9.70,9.72,9.72,9.72,9.73,9.74,9.75,
9.77,9.78,9.81,9.81,9.82,9.84,9.87,9.88,9.91,9.94,9.98,9.97,
9.93,9.92,9.96,9.98,9.92,9.88,9.83,9.81,9.79,9.82,9.84,9.84,
9.83,9.83,9.79,9.77,9.68,9.66,9.67,9.68,9.68,9.67,9.68,9.66];
const aug25 = [9.64,9.64,9.64,9.65,9.66,9.66,9.66,9.66,9.66,9.65,9.64,9.63,
9.64,9.62,9.61,9.59,9.55,9.54,9.54,9.53,9.52,9.49,9.48,9.49,
9.50,9.50,9.49,9.50,9.50,9.52,9.54,9.56,9.58,9.60,9.62,9.65,
9.67,9.71,9.75,9.76,9.80,9.80,9.86,9.91,9.91,9.99,9.99,10.05,
10.09,10.12,10.17,10.24,10.34,10.35,10.34,10.38,10.33,10.26,10.27,10.35,
10.32,10.27,10.25,10.23,10.25,10.28,10.23,10.17,10.14,10.14,10.18,10.15,
10.14,10.14,10.11,10.08,10.04,10.02,9.99,9.96,9.93,9.90,9.85,9.83,
9.82,9.80,9.79,9.76,9.74,9.72,9.71,9.71,9.71,9.71,9.69,9.69];
const aug26 = [9.68,9.69,9.70,9.71,9.71,9.70,9.68,9.66,9.66,9.64,9.64,9.62,
9.52,9.46,9.60,9.58,9.55,9.48,9.42,9.46,9.42,9.37,9.38,9.38,
9.38,9.38,9.43,9.66,9.69,9.72,9.66,9.66,9.66,9.66,9.68,9.67,
9.68,9.68,9.71,9.72,9.74,9.76,9.78,9.79,9.81,9.83,9.87,9.91,
9.97,9.98,9.99,9.98,10.03,10.04,10.06,10.08,10.09,10.09,10.09,10.11,
10.13,10.11,10.09,10.07,10.18,10.20,10.11,10.14,10.11,10.05,10.06,10.09,
10.11,10.14,10.12,10.11,10.20,10.20,10.26,10.24,10.21,10.12,10.33,10.28,
10.14,9.95,9.90,9.82,9.76,9.73,9.72,9.71,9.71,9.71,9.68,9.66];
const aug27 = [9.66,9.64,9.63,9.63,9.61,9.58,9.56,9.55,9.54,9.52,9.50,9.48,
9.47,9.45,9.44,9.42,9.39,9.38,9.36,9.34,9.32,9.30,9.29,9.29,
9.29,9.28,9.28,9.26,9.21,9.19,9.21,9.23,9.25,9.24,9.20,9.25,
9.30,9.31,9.30,9.31,9.29,9.32,9.36,9.29,9.23,9.24,9.24,9.27,
9.29,9.33,9.14,9.20,9.19,9.15,9.14,8.74,8.46,8.43,8.71,8.46,
8.54,8.56,8.72,8.90,9.16,9.22,9.42,9.39,9.38,9.36,9.25,9.16,
9.16,9.17,9.06,9.03,9.03,9.03,9.03,9.12,9.13,9.13,9.13,9.13,
9.13,9.13,9.13,9.14,9.15,9.14,9.14,9.14,9.20,9.16,9.17,9.20];
const aug28 = [9.21,9.21,9.20,9.20,9.21,9.20,9.20,9.19,9.19,9.19,9.18,9.18,
9.17,9.17,9.17,9.16,9.16,9.16,9.16,9.15,9.15,9.15,9.15,9.16,
9.16,9.16,9.16,9.16,9.17,9.18,9.18,9.19,9.20,9.21,9.22,9.23,
9.25,9.26,9.27,9.28,9.29,9.31,9.32,9.34,9.35,9.37,9.39,9.41,
9.45,9.46,9.48,9.48,9.45,9.51,9.52,9.55,null,null,null,null,
null,null,null,null,null,null,null,null,null,null,null,null,
null,null,null,null,null,null,null,null,null,null,null,null,
null,null,null,null,null,null,null,null,null,null,null,null];
const seriesD = [aug16, aug17, aug18, aug19, aug20, aug21, aug22, aug23, aug24, aug25, aug26, aug27, aug28];

// ---------- styles: [color, marker, radius] ----------
const stylesA = [['#000080','rectRot',3.3],['#FF00FF','rect',3.2],['#FFFF00','triangle',3.5],['#00FFFF','crossRot',3.3],['#800080','star',3.3],['#800000','circle',3.4]];
const stylesB = [['#2E8B8B','cross',3],['#0000FF','rect',1.4],['#00CCFF','rect',1.4],['#CCFFFF','rectRot',3],['#CCFFCC','rect',3.2],['#FFFF99','triangle',3.5],
['#99CCFF','crossRot',3],['#FF99CC','star',3],['#CC99FF','circle',3.3],['#FFCC99','cross',3],['#3366FF','rect',1.3],['#33CCCC','rect',1.3],
['#99CC00','rectRot',3.3],['#FFCC00','rect',3.6],['#FF9900','triangle',3.7],['#FF6600','crossRot',3]];
const stylesC = [['#666699','star',3],['#969696','circle',3.3],['#1F497D','cross',3.3],['#339966','rect',1.3],['#003300','rect',1.4],['#333300','rectRot',3.3],
['#993300','rect',3.6],['#993366','triangle',3.7],['#333399','crossRot',3],['#000000','star',3.3],['#FFFFFF','circle',3.3],['#FF0000','cross',3.3],
['#00FF00','rect',1.3],['#0000FF','rect',1.5],['#FFFF00','rectRot',3.7]];
const stylesD = [['#FF00FF','rect',3.6],['#00FFFF','triangle',3.5],['#800000','crossRot',3],['#008000','star',3],['#000080','circle',3.6],['#808000','cross',3],
['#800080','rect',1.2],['#008080','rect',1.2],['#C0C0C0','rectRot',3.3],['#808080','rect',3.6],['#9999FF','triangle',3.7],['#993366','crossRot',3],['#FFFFCC','star',3]];

// ---------- plugins ----------
const FONT = "'Liberation Serif','Times New Roman',serif";
Chart.defaults.font.family = FONT;
Chart.defaults.color = '#000';

const framePlugin = {
  id: 'frame',
  beforeDatasetsDraw(chart) {
    const a = chart.chartArea, ctx = chart.ctx;
    ctx.save();
    ctx.strokeStyle = '#333';
    ctx.lineWidth = 1.4;
    ctx.strokeRect(a.left, a.top, a.right - a.left, a.bottom - a.top);
    ctx.restore();
  }
};
const boxLegendPlugin = {
  id: 'boxLegend',
  afterDraw(chart, args, o) {
    const ctx = chart.ctx;
    ctx.save();
    ctx.fillStyle = '#fff';
    ctx.fillRect(o.x, o.y, o.w, o.h);
    ctx.strokeStyle = '#000';
    ctx.lineWidth = 1.3;
    ctx.strokeRect(o.x, o.y, o.w, o.h);
    chart.data.datasets.forEach((ds, i) => {
      const y = o.y0 + i * o.dy;
      ctx.strokeStyle = ds.borderColor;
      ctx.lineWidth = ds.borderWidth;
      ctx.beginPath(); ctx.moveTo(o.lx0, y); ctx.lineTo(o.lx1, y); ctx.stroke();
      ctx.fillStyle = ds.pointBackgroundColor;
      ctx.strokeStyle = ds.pointBorderColor;
      ctx.lineWidth = ds.pointBorderWidth;
      Chart.helpers.drawPoint(ctx, {pointStyle: ds.pointStyle, radius: ds.pointRadius, borderWidth: ds.pointBorderWidth, rotation: 0}, (o.lx0 + o.lx1) / 2, y);
      ctx.fillStyle = '#000';
      ctx.font = '10.5px ' + FONT;
      ctx.textAlign = 'left';
      ctx.textBaseline = 'middle';
      ctx.fillText(ds.label, o.tx, y + 0.5);
    });
    ctx.restore();
  }
};
const panelLabelPlugin = {
  id: 'panelLabel',
  afterDraw(chart, args, o) {
    const ctx = chart.ctx;
    ctx.save();
    ctx.fillStyle = '#000';
    ctx.font = '13px ' + FONT;
    ctx.textAlign = 'left';
    ctx.textBaseline = 'middle';
    ctx.fillText(o.text, o.x, o.y);
    ctx.restore();
  }
};

function makeChart(id, names, series, styles, L) {
  const datasets = series.map((d, i) => ({
    label: names[i],
    data: d,
    borderColor: styles[i][0],
    backgroundColor: styles[i][0],
    borderWidth: 1.1,
    pointStyle: styles[i][1],
    pointRadius: styles[i][2],
    pointBackgroundColor: styles[i][0],
    pointBorderColor: styles[i][0],
    pointBorderWidth: 1.1,
    tension: 0,
    clip: false,
    spanGaps: false,
    order: -i
  }));
  return new Chart(document.getElementById(id), {
    type: 'line',
    data: { labels: hours, datasets },
    plugins: [framePlugin, boxLegendPlugin, panelLabelPlugin],
    options: {
      responsive: false,
      animation: false,
      devicePixelRatio: 1,
      events: [],
      layout: { padding: { left: L.padL, top: L.top, right: L.padR, bottom: L.padB } },
      plugins: {
        legend: { display: false },
        tooltip: { enabled: false },
        boxLegend: L.legend,
        panelLabel: L.label
      },
      scales: {
        x: {
          type: 'linear', min: 0, max: 24,
          afterFit: s => { s.height = L.hx; },
          ticks: { stepSize: 4, autoSkip: false, maxRotation: 0, padding: L.tp,
                   font: { size: 11.5 },
                   callback: v => (timeTickLabels[v / 4] !== undefined ? timeTickLabels[v / 4] : '') },
          grid: { display: true, drawOnChartArea: false, drawTicks: true, tickLength: 4, color: '#000' },
          border: { display: true, color: '#000', width: 1.3 },
          title: { display: true, text: 'Time', font: { size: 11.5, weight: 'bold' }, padding: { top: 0, bottom: L.tpb } }
        },
        y: {
          min: 7.5, max: 10.5,
          afterFit: s => { s.width = L.wy; },
          afterBuildTicks: s => { s.ticks = yTicks.map(v => ({ value: v })); },
          ticks: { padding: 4, font: { size: 11.5 }, callback: v => Number(v).toFixed(1) },
          grid: { color: '#4a4a4a', lineWidth: 1.3, drawTicks: true, tickLength: 4 },
          border: { display: true, color: '#000', width: 1.3 },
          title: { display: true, text: 'DO (mg/L)', font: { size: 11.5, weight: 'bold' }, padding: { top: 0, bottom: 0 } }
        }
      }
    }
  });
}

makeChart('cA', namesA, seriesA, stylesA, {
  padL: 42.4, wy: 57.6, top: 16, padR: 1710 - 758, hx: 61.6, padB: 849 - 419.6, tp: 6, tpb: 0,
  legend: { x: 765, y: 147, w: 75, h: 97, y0: 157.7, dy: 15.7, lx0: 779, lx1: 801, tx: 805 },
  label: { text: '(A)', x: 10, y: 13 }
});
makeChart('cB', namesB, seriesB, stylesB, {
  padL: 908.4, wy: 52.6, top: 16, padR: 1710 - 1622, hx: 57.1, padB: 849 - 420.1, tp: 6, tpb: 0,
  legend: { x: 1633, y: 63, w: 65, h: 255, y0: 74, dy: 15.73, lx0: 1644, lx1: 1663, tx: 1666 },
  label: { text: '(B)', x: 877, y: 13 }
});
makeChart('cC', namesC, seriesC, stylesC, {
  padL: 42.9, wy: 53.1, top: 455, padR: 1710 - 757, hx: 43, padB: 0, tp: 5, tpb: 0,
  legend: { x: 765, y: 532, w: 75, h: 219, y0: 542, dy: 14.36, lx0: 775, lx1: 795, tx: 798 },
  label: { text: '(C)', x: 8, y: 445 }
});
makeChart('cD', namesD, seriesD, stylesD, {
  padL: 915.4, wy: 42.6, top: 463.6, padR: 1710 - 1620, hx: 43, padB: 0, tp: 7, tpb: -2.3,
  legend: { x: 1628, y: 549, w: 78, h: 207, y0: 558.5, dy: 15.6, lx0: 1637, lx1: 1657, tx: 1663 },
  label: { text: '(D)', x: 876, y: 452 }
});
</script>
</body></html>
